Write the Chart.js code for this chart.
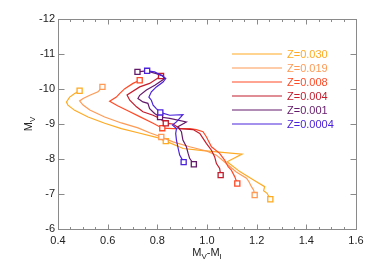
<!DOCTYPE html>
<html>
<head>
<meta charset="utf-8">
<script src="https://cdn.jsdelivr.net/npm/chart.js@4/dist/chart.umd.min.js"></script>
<style>
  html, body { margin: 0; padding: 0; background: #fff; }
  #wrap { width: 374px; height: 267px; }
</style>
</head>
<body>
<div id="wrap"><canvas id="cmd"></canvas></div>
<script>
// track names and colours
const seriesNames = ['Z=0.030', 'Z=0.019', 'Z=0.008', 'Z=0.004', 'Z=0.001', 'Z=0.0004'];
const seriesColors = ['#ffaa22', '#ff9a55', '#ff4a26', '#c41c2c', '#641a6a', '#4a22dc'];

// colour (M_V - M_I) and magnitude (M_V) along each track
const z030X = [0.487, 0.467, 0.447, 0.434, 0.440, 0.467, 0.521, 0.588, 0.655, 0.722, 0.796, 0.834, 0.904, 0.984, 1.141, 1.081, 1.132, 1.199, 1.232, 1.228, 1.242, 1.255];
const z030Y = [-9.95, -9.87, -9.77, -9.63, -9.54, -9.39, -9.20, -9.02, -8.87, -8.75, -8.62, -8.51, -8.30, -8.24, -8.14, -7.92, -7.64, -7.35, -7.21, -7.09, -7.02, -6.85];

const z019X = [0.579, 0.561, 0.528, 0.501, 0.487, 0.501, 0.528, 0.588, 0.655, 0.722, 0.769, 0.816, 0.863, 0.930, 0.998, 1.038, 1.078, 1.118, 1.159, 1.169, 1.179, 1.188, 1.192];
const z019Y = [-10.06, -9.92, -9.82, -9.73, -9.66, -9.54, -9.40, -9.20, -9.03, -8.89, -8.75, -8.63, -8.49, -8.35, -8.23, -8.11, -7.87, -7.63, -7.45, -7.35, -7.21, -7.11, -6.97];

const z008X = [0.729, 0.702, 0.669, 0.648, 0.635, 0.608, 0.640, 0.675, 0.729, 0.783, 0.820, 0.863, 0.930, 0.957, 0.984, 0.998, 1.004, 1.018, 1.051, 1.071, 1.085, 1.098, 1.112, 1.122];
const z008Y = [-10.25, -10.16, -10.01, -9.87, -9.77, -9.65, -9.52, -9.40, -9.21, -9.02, -8.88, -8.87, -8.87, -8.84, -8.78, -8.63, -8.54, -8.35, -8.16, -7.97, -7.78, -7.68, -7.49, -7.30];

const z004X = [0.815, 0.769, 0.729, 0.678, 0.689, 0.716, 0.742, 0.783, 0.810, 0.834, 0.863, 0.890, 0.944, 0.971, 0.984, 0.998, 1.018, 1.031, 1.038, 1.051, 1.055];
const z004Y = [-10.37, -10.16, -10.06, -9.83, -9.68, -9.49, -9.35, -9.25, -9.16, -9.02, -9.00, -8.87, -8.84, -8.73, -8.59, -8.44, -8.25, -8.06, -7.87, -7.73, -7.54];

const z001X = [0.720, 0.756, 0.796, 0.823, 0.830, 0.790, 0.756, 0.729, 0.722, 0.742, 0.762, 0.769, 0.789, 0.811, 0.850, 0.917, 0.883, 0.897, 0.903, 0.917, 0.924, 0.930, 0.947];
const z001Y = [-10.49, -10.52, -10.44, -10.37, -10.30, -10.11, -9.97, -9.82, -9.73, -9.63, -9.59, -9.44, -9.30, -9.20, -9.16, -9.06, -8.92, -8.78, -8.54, -8.35, -8.16, -8.02, -7.85];

const z0004X = [0.759, 0.789, 0.816, 0.834, 0.823, 0.796, 0.776, 0.766, 0.776, 0.783, 0.796, 0.812, 0.850, 0.903, 0.877, 0.861, 0.877, 0.874, 0.877, 0.884, 0.890, 0.906];
const z0004Y = [-10.52, -10.49, -10.39, -10.30, -10.20, -10.06, -9.92, -9.77, -9.68, -9.54, -9.44, -9.33, -9.25, -9.27, -9.06, -8.97, -8.87, -8.73, -8.54, -8.30, -8.11, -7.91];

// which points on each track carry a square
const markIdx = [[0, 11, 21], [0, 11, 22], [0, 10, 23], [0, 9, 20], [0, 13, 22], [0, 11, 21]];

// axis ticks
const xTicks = [0.4, 0.6, 0.8, 1.0, 1.2, 1.4, 1.6];
const yTicks = [-12, -11, -10, -9, -8, -7, -6];

const tracksX = [z030X, z019X, z008X, z004X, z001X, z0004X];
const tracksY = [z030Y, z019Y, z008Y, z004Y, z001Y, z0004Y];

const datasets = seriesNames.map((name, i) => ({
    label: name,
    data: tracksX[i].map((x, k) => ({ x: x, y: tracksY[i][k] })),
    showLine: true,
    borderColor: seriesColors[i],
    borderWidth: 1.2,
    tension: 0,
    pointStyle: 'rect',
    pointRadius: (c) => markIdx[i].includes(c.dataIndex) ? 3.6 : 0,
    pointBorderColor: seriesColors[i],
    pointBackgroundColor: '#fff',
    pointBorderWidth: 1.3,
    order: seriesNames.length - i
}));

const FONT = '"Liberation Sans", Arial, Helvetica, sans-serif';

// frame, inward ticks, axis titles and legend in the old IDL look
const decor = {
    id: 'decor',
    afterDraw(chart) {
        const ctx = chart.ctx;
        const a = chart.chartArea;
        const xs = chart.scales.x;
        const ys = chart.scales.y;
        const L = Math.round(a.left) + 0.5, R = Math.round(a.right) + 0.5;
        const T = Math.round(a.top) + 0.5, B = Math.round(a.bottom) + 0.5;
        ctx.save();
        ctx.strokeStyle = '#8a8a8a';
        ctx.lineWidth = 1;
        ctx.strokeRect(L, T, R - L, B - T);

        ctx.beginPath();
        for (let k = 0; k <= 24; k++) {
            const v = 0.4 + k * 0.05;
            const px = Math.round(xs.getPixelForValue(v)) + 0.5;
            const len = k % 4 === 0 ? 5 : 2.5;
            ctx.moveTo(px, B); ctx.lineTo(px, B - len);
            ctx.moveTo(px, T); ctx.lineTo(px, T + len);
        }
        yTicks.forEach(v => {
            const py = Math.round(ys.getPixelForValue(v)) + 0.5;
            ctx.moveTo(L, py); ctx.lineTo(L + 6, py);
            ctx.moveTo(R, py); ctx.lineTo(R - 6, py);
        });
        ctx.stroke();

        // x title: M_V-M_I
        ctx.fillStyle = '#222';
        ctx.textBaseline = 'alphabetic';
        ctx.textAlign = 'left';
        const big = '11px ' + FONT, small = '8px ' + FONT;
        const parts = [['M', big, 0], ['V', small, 3], ['-M', big, 0], ['I', small, 3]];
        let w = 0;
        parts.forEach(p => { ctx.font = p[1]; w += ctx.measureText(p[0]).width; });
        let cx = (a.left + a.right) / 2 - w / 2;
        parts.forEach(p => {
            ctx.font = p[1];
            ctx.fillText(p[0], cx, 256 + p[2]);
            cx += ctx.measureText(p[0]).width;
        });

        // y title: M_V, rotated
        ctx.save();
        ctx.translate(32, (a.top + a.bottom) / 2);
        ctx.rotate(-Math.PI / 2);
        const yp = [['M', big, 0], ['V', small, 3]];
        w = 0;
        yp.forEach(p => { ctx.font = p[1]; w += ctx.measureText(p[0]).width; });
        cx = -w / 2;
        yp.forEach(p => {
            ctx.font = p[1];
            ctx.fillText(p[0], cx, p[2]);
            cx += ctx.measureText(p[0]).width;
        });
        ctx.restore();

        // legend
        ctx.font = '11px ' + FONT;
        ctx.textBaseline = 'middle';
        ctx.lineWidth = 1.2;
        seriesNames.forEach((name, i) => {
            const ry = 54 + i * 14;
            ctx.strokeStyle = seriesColors[i];
            ctx.beginPath();
            ctx.moveTo(232, ry); ctx.lineTo(282, ry);
            ctx.stroke();
            ctx.fillStyle = seriesColors[i];
            ctx.fillText(name, 287, ry + 0.5);
        });
        ctx.restore();
    }
};

new Chart(document.getElementById('cmd'), {
    type: 'scatter',
    data: { datasets: datasets },
    options: {
        responsive: true,
        maintainAspectRatio: false,
        animation: false,
        layout: { padding: { left: 0, right: 18, top: 19, bottom: 0 } },
        plugins: { legend: { display: false }, tooltip: { enabled: false } },
        scales: {
            x: {
                type: 'linear',
                min: 0.4, max: 1.6,
                afterFit: (s) => { s.height = 38; },
                afterBuildTicks: (s) => { s.ticks = xTicks.map(v => ({ value: v })); },
                grid: { display: false, drawTicks: false },
                border: { display: false },
                ticks: {
                    padding: 5,
                    color: '#222',
                    font: { family: FONT, size: 11 },
                    callback: (v) => Number(v).toFixed(1),
                    maxRotation: 0
                }
            },
            y: {
                type: 'linear',
                reverse: true,
                min: -12, max: -6,
                afterFit: (s) => { s.width = 58; },
                afterBuildTicks: (s) => { s.ticks = yTicks.map(v => ({ value: v })); },
                grid: { display: false, drawTicks: false },
                border: { display: false },
                ticks: {
                    padding: 3,
                    color: '#222',
                    font: { family: FONT, size: 11 },
                    callback: (v) => String(v)
                }
            }
        }
    },
    plugins: [decor]
});
</script>
</body>
</html>
